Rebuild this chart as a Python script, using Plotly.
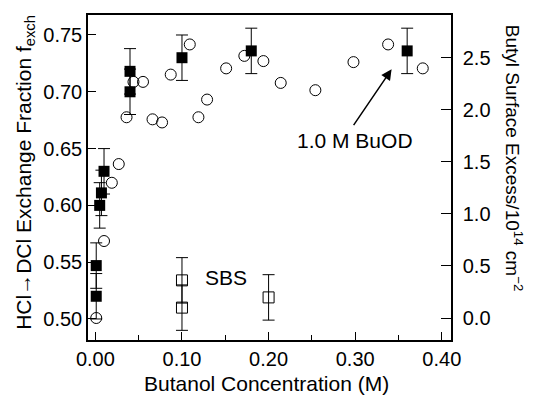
import plotly.graph_objects as go

# Filled squares: HCl->DCl exchange fraction (left axis)
sq_x = [0.001, 0.001, 0.005, 0.007, 0.010, 0.040, 0.040, 0.100, 0.180, 0.360]
sq_y = [0.520, 0.547, 0.600, 0.611, 0.630, 0.700, 0.718, 0.730, 0.736, 0.736]
sq_err = [0.02, 0.02, 0.02, 0.02, 0.02, 0.02, 0.02, 0.02, 0.02, 0.02]

# Open squares: SBS (left axis)
sbs_x = [0.100, 0.100, 0.200]
sbs_y = [0.534, 0.510, 0.519]
sbs_err = [0.02, 0.02, 0.02]

# Open circles: butyl surface excess (right axis, 10^14 cm^-2)
c_x = [0.001, 0.010, 0.019, 0.027, 0.036, 0.044, 0.055, 0.066, 0.077, 0.087,
       0.109, 0.119, 0.129, 0.151, 0.172, 0.194, 0.214, 0.254, 0.298, 0.338, 0.378]
c_y = [0.00, 0.74, 1.30, 1.48, 1.93, 2.27, 2.27, 1.91, 1.88, 2.34,
       2.63, 1.93, 2.10, 2.40, 2.52, 2.47, 2.26, 2.19, 2.46, 2.63, 2.40]

x_ticks = [0.0, 0.1, 0.2, 0.3, 0.4]
x_ticklabels = ["0.00", "0.10", "0.20", "0.30", "0.40"]
y_ticks = [0.50, 0.55, 0.60, 0.65, 0.70, 0.75]
y2_ticks = [0.0, 0.5, 1.0, 1.5, 2.0, 2.5]

FONT = "Liberation Sans, Arial, sans-serif"

fig = go.Figure()

fig.add_trace(go.Scatter(
    x=c_x, y=c_y, mode="markers", yaxis="y2",
    marker=dict(symbol="circle-open", size=11, color="black", line=dict(width=1)),
    showlegend=False))

fig.add_trace(go.Scatter(
    x=sbs_x, y=sbs_y, mode="markers",
    marker=dict(symbol="square-open", size=11, color="black", line=dict(width=1)),
    error_y=dict(type="data", array=sbs_err, color="black", thickness=1, width=6),
    showlegend=False))

fig.add_trace(go.Scatter(
    x=sq_x, y=sq_y, mode="markers",
    marker=dict(symbol="square", size=11, color="black"),
    error_y=dict(type="data", array=sq_err, color="black", thickness=1, width=6),
    showlegend=False))

axis_common = dict(showline=True, linecolor="black", linewidth=1.5, ticks="inside",
                   tickcolor="black", showgrid=False, zeroline=False, automargin=False,
                   tickfont=dict(family=FONT, size=20, color="black"))

# The page body has an 8px margin, so the figure is offset by 8px right/down.
fig.update_layout(
    width=526, height=388,
    margin=dict(l=80, r=83, t=7, b=56),
    paper_bgcolor="white", plot_bgcolor="white",
    font=dict(family=FONT, color="black"),
    xaxis=dict(range=[-0.0085, 0.4106], tickvals=x_ticks, ticktext=x_ticklabels,
               ticklen=8, mirror=True,
               minor=dict(dtick=0.05, tick0=0, ticks="inside", ticklen=5, tickcolor="black"),
               **axis_common),
    yaxis=dict(range=[0.4815, 0.7676], tickvals=y_ticks, tickformat=".2f", ticklen=8,
               **axis_common),
    yaxis2=dict(range=[-0.2115, 2.913], tickvals=y2_ticks, tickformat=".1f",
                overlaying="y", side="right", ticklen=10, ticklabelstandoff=6,
                **axis_common),
    annotations=[
        dict(text="Butanol Concentration (M)", xref="paper", yref="paper",
             x=0.493, y=-0.135, xanchor="center", yanchor="middle", showarrow=False,
             font=dict(size=21, family=FONT)),
        dict(text="HCl→DCl Exchange Fraction f<sub>exch</sub>", xref="paper", yref="paper",
             x=-0.174, y=0.517, xanchor="center", yanchor="middle", textangle=-90,
             showarrow=False, font=dict(size=21, family=FONT)),
        dict(text="Butyl Surface Excess/10<sup>14</sup> cm<sup>−2</sup>", xref="paper", yref="paper",
             x=1.174, y=0.56, xanchor="center", yanchor="middle", textangle=90,
             showarrow=False, font=dict(size=19, family=FONT)),
        dict(text="1.0 M BuOD", x=0.300, y=0.6567, xref="x", yref="y",
             showarrow=False, font=dict(size=21, family=FONT)),
        dict(text="", x=0.342, y=0.7198, ax=0.297, ay=0.6693, xref="x", yref="y",
             axref="x", ayref="y", showarrow=True, arrowhead=2, arrowsize=1.4,
             arrowwidth=1.5, arrowcolor="black"),
        dict(text="SBS", x=0.151, y=0.5361, xref="x", yref="y",
             showarrow=False, font=dict(size=21, family=FONT)),
    ],
)

fig.write_html("out.html")
